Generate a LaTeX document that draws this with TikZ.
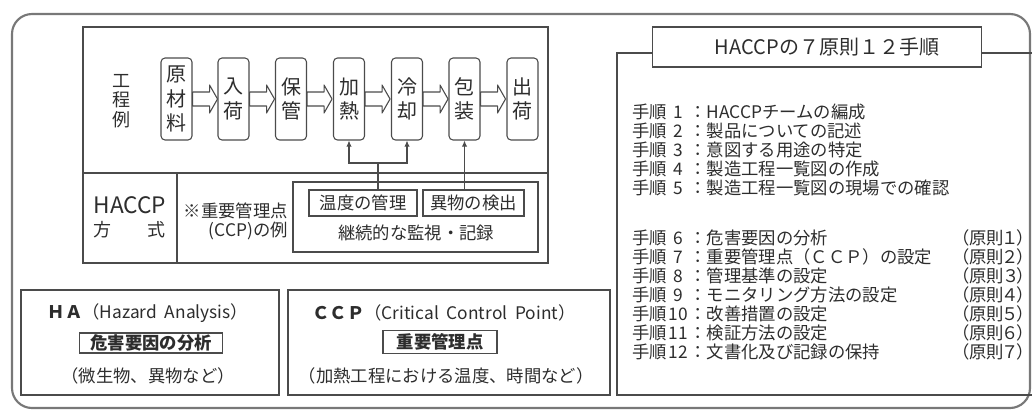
\documentclass[tikz,border=0pt]{standalone}
\usepackage{fontspec}
\setmainfont{Noto Sans CJK JP}
\usetikzlibrary{calc,arrows.meta}

\definecolor{framegray}{RGB}{120,120,120}
\definecolor{linegray}{RGB}{75,75,75}
\definecolor{inkgray}{RGB}{45,45,45}

\tikzset{
  procbox/.style={draw=linegray, line width=0.8pt, rounded corners=3pt, minimum width=23.25pt, minimum height=61.5pt, inner sep=0pt, align=center, text=inkgray, font=\fontsize{15}{18.5}\selectfont},
  hollowarrow/.style={draw=linegray, line width=0.8pt, fill=white, line join=round},
  plainbox/.style={draw=linegray, line width=0.9pt},
  txt/.style={inner sep=0pt, text=inkgray, font=\fontsize{13}{14.25}\selectfont},
  tagbox/.style={txt, draw=linegray, line width=0.8pt},
  ccparrow/.style={draw=linegray, line width=0.8pt, -{Latex[length=4.5pt,width=4pt]}}
}

\begin{document}
\begin{tikzpicture}[x=0.75pt,y=0.75pt,yscale=-1,xscale=1]
\useasboundingbox (0,0) rectangle (1032,412);

%Outer frame
\draw [draw=framegray, line width=1.6pt, rounded corners=15pt] (12,14) rectangle (1030,408);

%Process table
\draw [plainbox] (83,27) rectangle (548,263);
\draw [plainbox] (83,173) -- (548,173);
\draw [plainbox] (177,173) -- (177,263);

% Text Node
\node [txt, align=center, font=\fontsize{13.5}{14.5}\selectfont] (lblproc) at (121,101) {工\\程\\例};

%Process steps
\foreach \i/\x/\t in {1/176.5/原\\材\\料, 2/233.5/入\\荷, 3/291/保\\管, 4/349/加\\熱, 5/407/冷\\却, 6/464.5/包\\装, 7/522.5/出\\荷}
  \node [procbox] (p\i) at (\x,99) {\t};

%Block arrows
\foreach \a in {1,...,6}
  \draw [hollowarrow] ($(p\a.east)+(0,-7)$) -- ++(17,0) -- ++(0,-7) -- ++(8,14) -- ++(-8,14) -- ++(0,-7) -- ++(-17,0) -- cycle;

% Text Node
\node [txt, font=\fontsize{17}{18}\selectfont] (lblhaccp) at (130,205) {HACCP};
\node [txt, font=\fontsize{13.5}{14.5}\selectfont] (lblway) at (129,230) {\makebox[54pt]{方\hfill 式}};
\node [txt, align=right, anchor=east] (lblccp) at (288,221) {※重要管理点\\(CCP)の例};

%Monitoring
\draw [plainbox] (293,182) rectangle (538,252);
\node [tagbox, minimum width=81pt, minimum height=19.5pt] (t1) at (363,203) {温度の管理};
\node [tagbox, minimum width=75.75pt, minimum height=19.5pt] (t2) at (473.5,203) {異物の検出};
\node [txt] (mon) at (416,233) {継続的な監視・記録};

%Straight Lines
\coordinate (j) at (378,163);
\draw [draw=linegray, line width=0.8pt] (t1.north -| j) -- (j);
\draw [ccparrow] (j) -| (p4.south);
\draw [ccparrow] (j) -| (p5.south);
\draw [ccparrow] (t2.north -| p6.south) -- (p6.south);

%HA box
\draw [plainbox] (21,290) rectangle (279,395);
\node [txt] (ha1) at (148,313) {{\bfseries ＨＡ}（Hazard~~Analysis）};
\node [tagbox, font=\fontsize{13}{14.25}\selectfont\bfseries, minimum width=107.25pt, minimum height=15pt] (ha2) at (151,343) {危害要因の分析};
\node [txt] (ha3) at (148,376) {（微生物、異物など）};

%CCP box
\draw [plainbox] (288,290) rectangle (610,395);
\node [txt] (cc1) at (444,313) {{\bfseries ＣＣＰ}（Critical~~Control~~Point）};
\node [tagbox, font=\fontsize{13}{14.25}\selectfont\bfseries, minimum width=85.5pt, minimum height=17pt] (cc2) at (440,342) {重要管理点};
\node [txt] (cc3) at (446,376) {（加熱工程における温度、時間など）};

%Steps panel
\draw [plainbox] (1032,53) -- (617,53) -- (617,395) -- (1032,395);
\node [txt, draw=linegray, line width=0.9pt, fill=white, minimum width=246.75pt, minimum height=30pt, font=\fontsize{15}{16}\selectfont] (title) at (817,47) {\hspace*{15pt}HACCPの７原則１２手順};

\foreach \n/\y/\t in {1/112/HACCPチームの編成, 2/131/製品についての記述, 3/150/意図する用途の特定, 4/169/製造工程一覧図の作成, 5/188/製造工程一覧図の現場での確認}
  \node [txt, anchor=west] (s\n) at (632,\y) {手順\makebox[1.3em]{\n}：\t};

\foreach \n/\y/\t/\r in {6/238/危害要因の分析/１, 7/257/重要管理点（ＣＣＰ）の設定/２, 8/276/管理基準の設定/３, 9/295/モニタリング方法の設定/４, 10/314/改善措置の設定/５, 11/333/検証方法の設定/６, 12/352/文書化及び記録の保持/７}
{
  \node [txt, anchor=west] (s\n) at (632,\y) {手順\makebox[1.3em]{\n}：\t};
  \node [txt, anchor=east] (r\n) at (1026,\y) {\addfontfeature{RawFeature=+palt}（原則\r）};
}

\end{tikzpicture}
\end{document}
